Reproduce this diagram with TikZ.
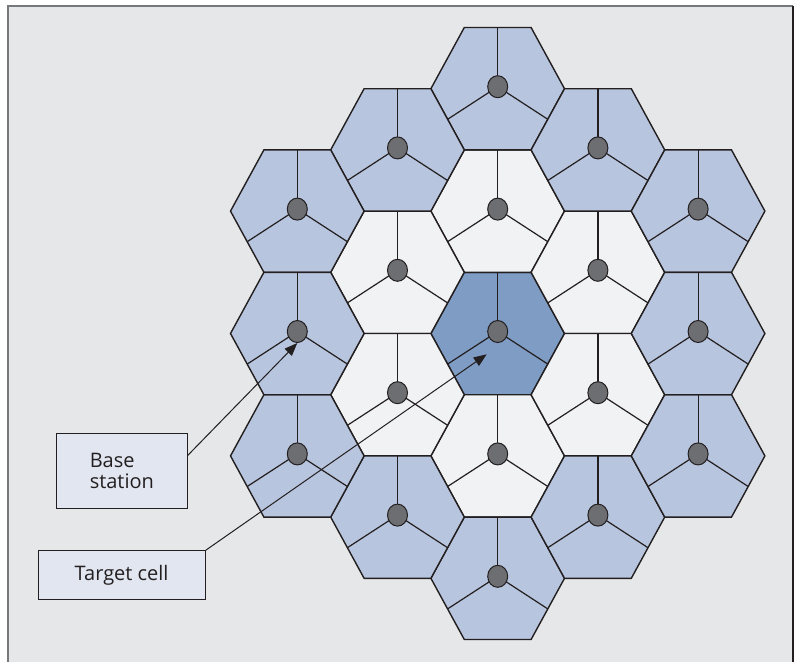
\documentclass[tikz,border=0pt]{standalone}
\usepackage{fontspec}
\setmainfont{Open Sans}
\usetikzlibrary{arrows.meta,calc,shapes.geometric}
\definecolor{bg}{HTML}{E6E7E8}
\definecolor{inkc}{HTML}{231F20}
\definecolor{frameg}{HTML}{77787B}
\definecolor{cCenter}{HTML}{7F9CC4}
\definecolor{cInner}{HTML}{F1F2F4}
\definecolor{cOuter}{HTML}{B8C5DE}
\definecolor{dotgray}{HTML}{6D6E71}
\definecolor{boxfill}{HTML}{E1E6F0}
\def\R{66.8}
\def\H{61.2}
\tikzset{
  hexline/.style={draw=inkc, line width=1.4pt, line join=miter},
  spoke/.style={draw=inkc, line width=1.2pt},
  bsdot/.style={ellipse, minimum width=20pt, minimum height=22pt, inner sep=0pt, fill=dotgray, draw=inkc, line width=1pt},
  labelbox/.style={draw=inkc, line width=1pt, fill=boxfill, inner sep=0pt, font=\fontsize{20}{21}\selectfont, text=inkc},
  conn/.style={draw=inkc, line width=1pt, -{Triangle[length=13pt,width=10pt]}}
}
\begin{document}
\begin{tikzpicture}[x=1pt,y=-1pt]
\useasboundingbox (0,0) rectangle (801,662);
\fill[bg] (8.3,5.7) rectangle (792.7,662);
\draw[frameg, line width=2pt] (8.3,662) -- (8.3,5.7) -- (792.7,5.7);
\draw[inkc, line width=1.6pt] (792.7,5.7) -- (792.7,662);
% hex cells
\foreach \n/\q/\s/\c in {C/0/0/cCenter,
  N1/0/-2/cInner, S1/0/2/cInner, NE1/1/-1/cInner, SE1/1/1/cInner, NW1/-1/-1/cInner, SW1/-1/1/cInner,
  N2/0/-4/cOuter, S2/0/4/cOuter, A/1/-3/cOuter, B/1/3/cOuter, D/-1/-3/cOuter, E/-1/3/cOuter,
  F/2/-2/cOuter, G/2/2/cOuter, I/-2/-2/cOuter, J/-2/2/cOuter, K/2/0/cOuter, L/-2/0/cOuter}{
  \coordinate (h\n) at ({497.7+100.2*\q},{333.5+61.2*\s});
  \path[hexline, fill=\c] ($(h\n)+(-\R,0)$) -- ++(\R/2,-\H) -- ++(\R,0) -- ++(\R/2,\H) -- ++(-\R/2,\H) -- ++(-\R,0) -- cycle;
  \draw[spoke] ($(h\n)+(0,-2)$) -- ($(h\n)+(0,-\H)$);
  \draw[spoke] ($(h\n)+(0,-2)$) -- ($(h\n)+(-0.75*\R,\H/2)$);
  \draw[spoke] ($(h\n)+(0,-2)$) -- ($(h\n)+(0.75*\R,\H/2)$);
  \node[bsdot] (d\n) at ($(h\n)+(0,-2)$) {};
}
% labels
\node[labelbox, minimum width=130.3pt, minimum height=75pt, align=left] (bsbox) at (121.85,470.8) {Base\\station};
\node[labelbox, minimum width=167.3pt, minimum height=48.3pt] (tcbox) at (121.65,574.85) {Target cell};
\coordinate (tctip) at (486.7,354.3);
\draw[conn] (bsbox.13) -- (dL.south);
\draw[conn] (tcbox.north east) -- (tctip);
\end{tikzpicture}
\end{document}
